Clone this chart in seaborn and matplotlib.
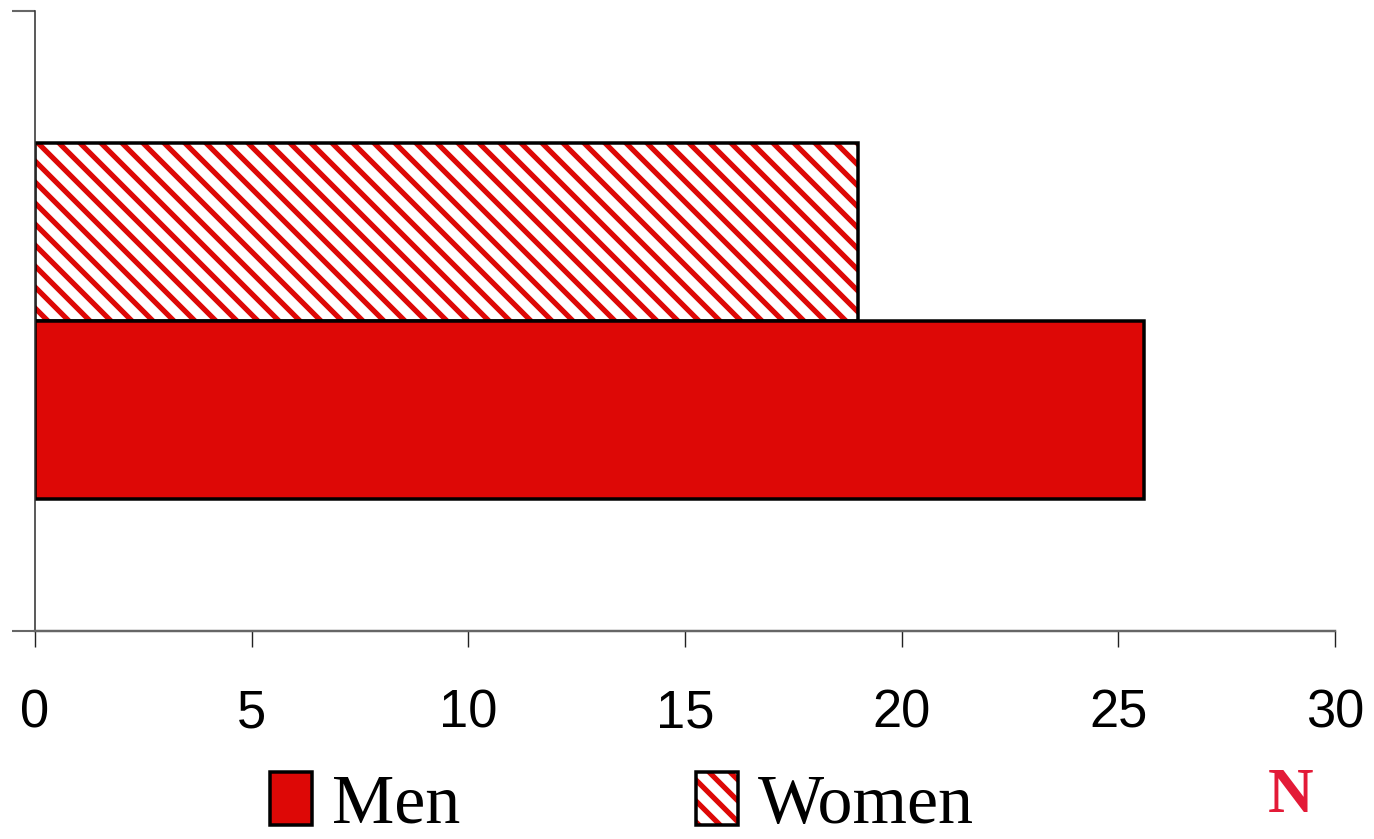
import matplotlib
matplotlib.use("Agg")
import matplotlib.pyplot as plt
from matplotlib.patches import Patch
import seaborn as sns
import pandas as pd

# Data
groups = ["Men", "Women"]
values = [25.6, 19.0]
category = ["All"]
xticks = [0, 5, 10, 15, 20, 25, 30]

RED = "#DD0806"
LOGO_RED = "#E31A37"

sns.set_theme(style="white")
plt.rcParams["hatch.linewidth"] = 3.0
plt.rcParams["text.color"] = "black"
plt.rcParams["xtick.color"] = "black"
plt.rcParams["ytick.color"] = "black"

df = pd.DataFrame({"group": groups, "value": values, "cat": category * len(groups)})

DPI = 126
fig = plt.figure(figsize=(1374 / DPI, 839 / DPI), dpi=DPI)
ax = fig.add_axes([35 / 1374, 1 - 631 / 839, 1300 / 1374, 620 / 839])

sns.barplot(data=df, x="value", y="cat", hue="group", hue_order=["Women", "Men"],
            palette={"Men": RED, "Women": "white"}, orient="h", width=0.573,
            saturation=1, edgecolor="black", linewidth=2.0, legend=False, ax=ax)


def stripe(patch):
    patch.set_facecolor("white")
    patch.set_edgecolor("black")
    patch.set_hatch("\\\\")
    if hasattr(patch, "set_hatchcolor"):
        patch.set_hatchcolor(RED)
    else:
        patch._hatch_color = matplotlib.colors.to_rgba(RED)


for bar in ax.containers[0]:
    stripe(bar)

ax.set_xlim(0, 30)
ax.set_ylim(0.5, -0.5)
ax.set_xticks(xticks)
ax.set_xticklabels([str(t) for t in xticks], fontsize=30, color="black",
                   family=["Liberation Sans Narrow", "Liberation Sans"])
ax.set_yticks([-0.5, 0.5])
ax.set_yticklabels([])
ax.set_xlabel("")
ax.set_ylabel("")

for side in ("top", "right"):
    ax.spines[side].set_visible(False)
ax.spines["bottom"].set_color("#666666")
ax.spines["bottom"].set_linewidth(1.4)
ax.spines["left"].set_color("#333333")
ax.spines["left"].set_linewidth(0.9)
ax.tick_params(axis="x", direction="out", length=9.1, width=0.8, color="#222222",
               pad=24, bottom=True)
ax.tick_params(axis="y", direction="out", length=13.1, width=1.2, color="#666666",
               left=True)

# Legend
men_h = Patch(facecolor=RED, edgecolor="black", linewidth=2.0)
women_h = Patch(facecolor="white", edgecolor="black", linewidth=2.0, hatch="\\\\")
stripe(women_h)
leg = fig.legend(handles=[men_h, women_h], labels=["Men", "Women"], ncol=2,
                 loc="upper left", bbox_to_anchor=(270 / 1374, 1 - 772 / 839),
                 frameon=False, borderpad=0, borderaxespad=0,
                 prop={"family": "Liberation Serif", "size": 40},
                 handlelength=0.6, handleheight=0.78, handletextpad=0.28,
                 columnspacing=3.38)
for t in leg.get_texts():
    t.set_color("black")

# Logo mark
fig.text(1268 / 1374, 1 - 768 / 839, "N", color=LOGO_RED, fontsize=36,
         family="Liberation Serif", fontweight="bold", va="top", ha="left")

fig.savefig("out.png", dpi=DPI)
